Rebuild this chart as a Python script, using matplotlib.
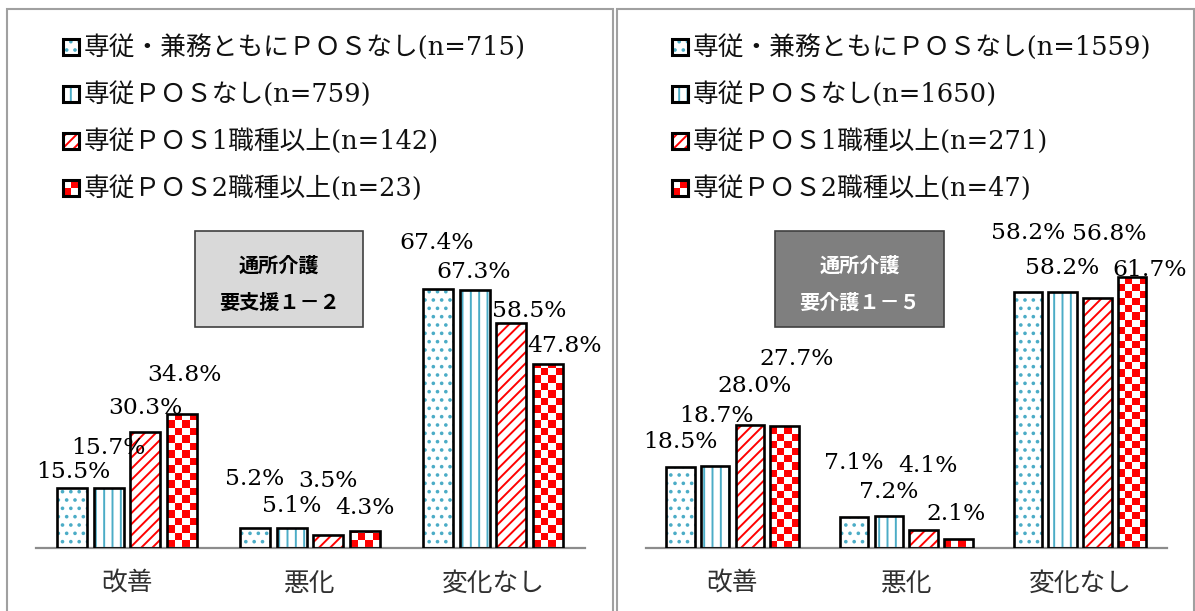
import numpy as np
import matplotlib
matplotlib.use("Agg")
import matplotlib.pyplot as plt
from matplotlib.patches import Rectangle
from matplotlib.colors import ListedColormap

plt.rcParams['font.family'] = ['DejaVu Serif', 'Noto Sans CJK JP']
plt.rcParams['hatch.linewidth'] = 1.4

# データ
categories = ['改善', '悪化', '変化なし']

labels_left = ['専従・兼務ともにＰＯＳなし(n=715)', '専従ＰＯＳなし(n=759)',
               '専従ＰＯＳ1職種以上(n=142)', '専従ＰＯＳ2職種以上(n=23)']
left_s1 = [15.5, 5.2, 67.4]
left_s2 = [15.7, 5.1, 67.3]
left_s3 = [30.3, 3.5, 58.5]
left_s4 = [34.8, 4.3, 47.8]

labels_right = ['専従・兼務ともにＰＯＳなし(n=1559)', '専従ＰＯＳなし(n=1650)',
                '専従ＰＯＳ1職種以上(n=271)', '専従ＰＯＳ2職種以上(n=47)']
right_s1 = [18.5, 7.1, 58.2]
right_s2 = [18.7, 7.2, 58.2]
right_s3 = [28.0, 4.1, 56.8]
right_s4 = [27.7, 2.1, 61.7]

title_left = ['通所介護', '要支援１－２']
title_right = ['通所介護', '要介護１－５']

# ラベル位置の調整 (px, 棒の上端からの距離)
offs_left = [[(1, 18.5), (0, 52), (-1, 49)],
             [(0, 42.7), (0, 25.4), (-1, 19.6)],
             [(0, 26.6), (0, 55.6), (18, 14.4)],
             [(3, 42), (0, 25.5), (17, 21.4)]]
offs_right = [[(0, 27), (0, 56), (0, 61)],
              [(1, 52), (0, 27), (-1, 26)],
              [(4.6, 41), (4, 66), (12, 67)],
              [(12, 70), (-2, 27), (17, 9.5)]]

W, H = 1195, 611
BLUE = '#4bacc6'
RED = '#ff0000'
hatches = ['..', '||', '///', None]
hatch_cols = [BLUE, BLUE, RED, None]
checker_cmap = ListedColormap(['white', RED])


def fx(x):
    return x / W


def fy(y):
    return 1 - y / H


fig = plt.figure(figsize=(W / 100, H / 100), dpi=100)

# パネル枠
fig.add_artist(Rectangle((fx(7), fy(616)), 606 / W, 607 / H, transform=fig.transFigure,
                         fill=False, ec='#a0a0a0', lw=1.5))
fig.add_artist(Rectangle((fx(617), fy(616)), 577 / W, 607 / H, transform=fig.transFigure,
                         fill=False, ec='#a0a0a0', lw=1.5))


def draw_panel(rect, ppu, series, offs, names, leg_x, title, box, box_fc, box_tc):
    ax = fig.add_axes(rect)
    n = len(series)
    x = np.arange(len(categories))
    bw = 0.164
    ax_w_px = rect[2] * W
    px_per_x = ax_w_px / 3.0
    for i, vals in enumerate(series):
        xs = x + (i - (n - 1) / 2) * 0.2
        if hatches[i] is not None:
            ax.bar(xs, vals, bw, color='white', edgecolor=hatch_cols[i], linewidth=0,
                   hatch=hatches[i], zorder=2)
        else:
            base = ax.bar(xs, vals, bw, color='white', linewidth=0, zorder=2)
            cell_px = bw * px_per_x / 4
            for patch, v in zip(base.patches, vals):
                nrows = int(np.ceil(v * ppu / cell_px))
                arr = (np.add.outer(np.arange(nrows), np.arange(4)) + 1) % 2
                x0 = patch.get_x()
                im = ax.imshow(arr, cmap=checker_cmap, origin='lower', interpolation='nearest',
                               aspect='auto', zorder=2.5,
                               extent=(x0, x0 + bw, 0, nrows * cell_px / ppu))
                im.set_clip_path(patch)
        ax.bar(xs, vals, bw, fill=False, edgecolor='black', linewidth=1.9, zorder=3)
        for j, v in enumerate(vals):
            dx, dy = offs[i][j]
            ax.annotate(f'{v:.1f}%', xy=(xs[j], v), xytext=(dx * 0.72, (dy - 8.5) * 0.72),
                        textcoords='offset points', ha='center', va='baseline',
                        fontsize=16.8, family='DejaVu Serif', color='black')
    ax.set_xlim(-0.5, 2.5)
    ax.set_ylim(0, 100)
    for s in ['top', 'left', 'right']:
        ax.spines[s].set_visible(False)
    ax.spines['bottom'].set_color('#8c8c8c')
    ax.spines['bottom'].set_linewidth(1.6)
    ax.set_yticks([])
    ax.set_xticks(x, categories)
    ax.tick_params(axis='x', length=0, pad=16.5, labelsize=18.5, labelcolor='#303030')
    ax.set_facecolor('none')

    # 凡例
    for i, name in enumerate(names):
        yc = 47 + i * 47
        mx = leg_x
        if hatches[i] is not None:
            fig.add_artist(Rectangle((fx(mx), fy(yc + 8)), 16 / W, 16 / H, transform=fig.transFigure,
                                     fc='white', ec=hatch_cols[i], lw=0, hatch=hatches[i]))
        else:
            fig.add_artist(Rectangle((fx(mx), fy(yc + 8)), 16 / W, 16 / H, transform=fig.transFigure,
                                     fc='white', lw=0))
            fig.add_artist(Rectangle((fx(mx + 8), fy(yc)), 8 / W, 8 / H, transform=fig.transFigure,
                                     fc=RED, lw=0))
            fig.add_artist(Rectangle((fx(mx), fy(yc + 8)), 8 / W, 8 / H, transform=fig.transFigure,
                                     fc=RED, lw=0))
        fig.add_artist(Rectangle((fx(mx), fy(yc + 8)), 16 / W, 16 / H, transform=fig.transFigure,
                                 fill=False, ec='black', lw=2.2))
        fig.text(fx(mx + 21), fy(yc), name, ha='left', va='center', fontsize=18.5,
                 color='#111111')

    # タイトルボックス
    bx0, by0, bx1, by1 = box
    fig.add_artist(Rectangle((fx(bx0), fy(by1)), (bx1 - bx0) / W, (by1 - by0) / H,
                             transform=fig.transFigure, fc=box_fc, ec='#404040', lw=1.2))
    cx = (bx0 + bx1) / 2
    fig.text(fx(cx), fy(265), title[0], ha='center', va='center', fontsize=14.5,
             family='Noto Sans CJK JP', weight='bold', color=box_tc)
    fig.text(fx(cx), fy(302), title[1], ha='center', va='center', fontsize=14.5,
             family='Noto Sans CJK JP', weight='bold', color=box_tc)
    return ax


draw_panel([35.5 / W, 63 / H, 549 / W, 384 / H], 3.84,
           [left_s1, left_s2, left_s3, left_s4], offs_left, labels_left, 63,
           title_left, (195, 231, 363, 327), '#d9d9d9', 'black')
draw_panel([645.5 / W, 63 / H, 521.5 / W, 440 / H], 4.40,
           [right_s1, right_s2, right_s3, right_s4], offs_right, labels_right, 672,
           title_right, (775, 231, 944, 327), '#7f7f7f', 'white')

fig.savefig('out.png', dpi=100)
